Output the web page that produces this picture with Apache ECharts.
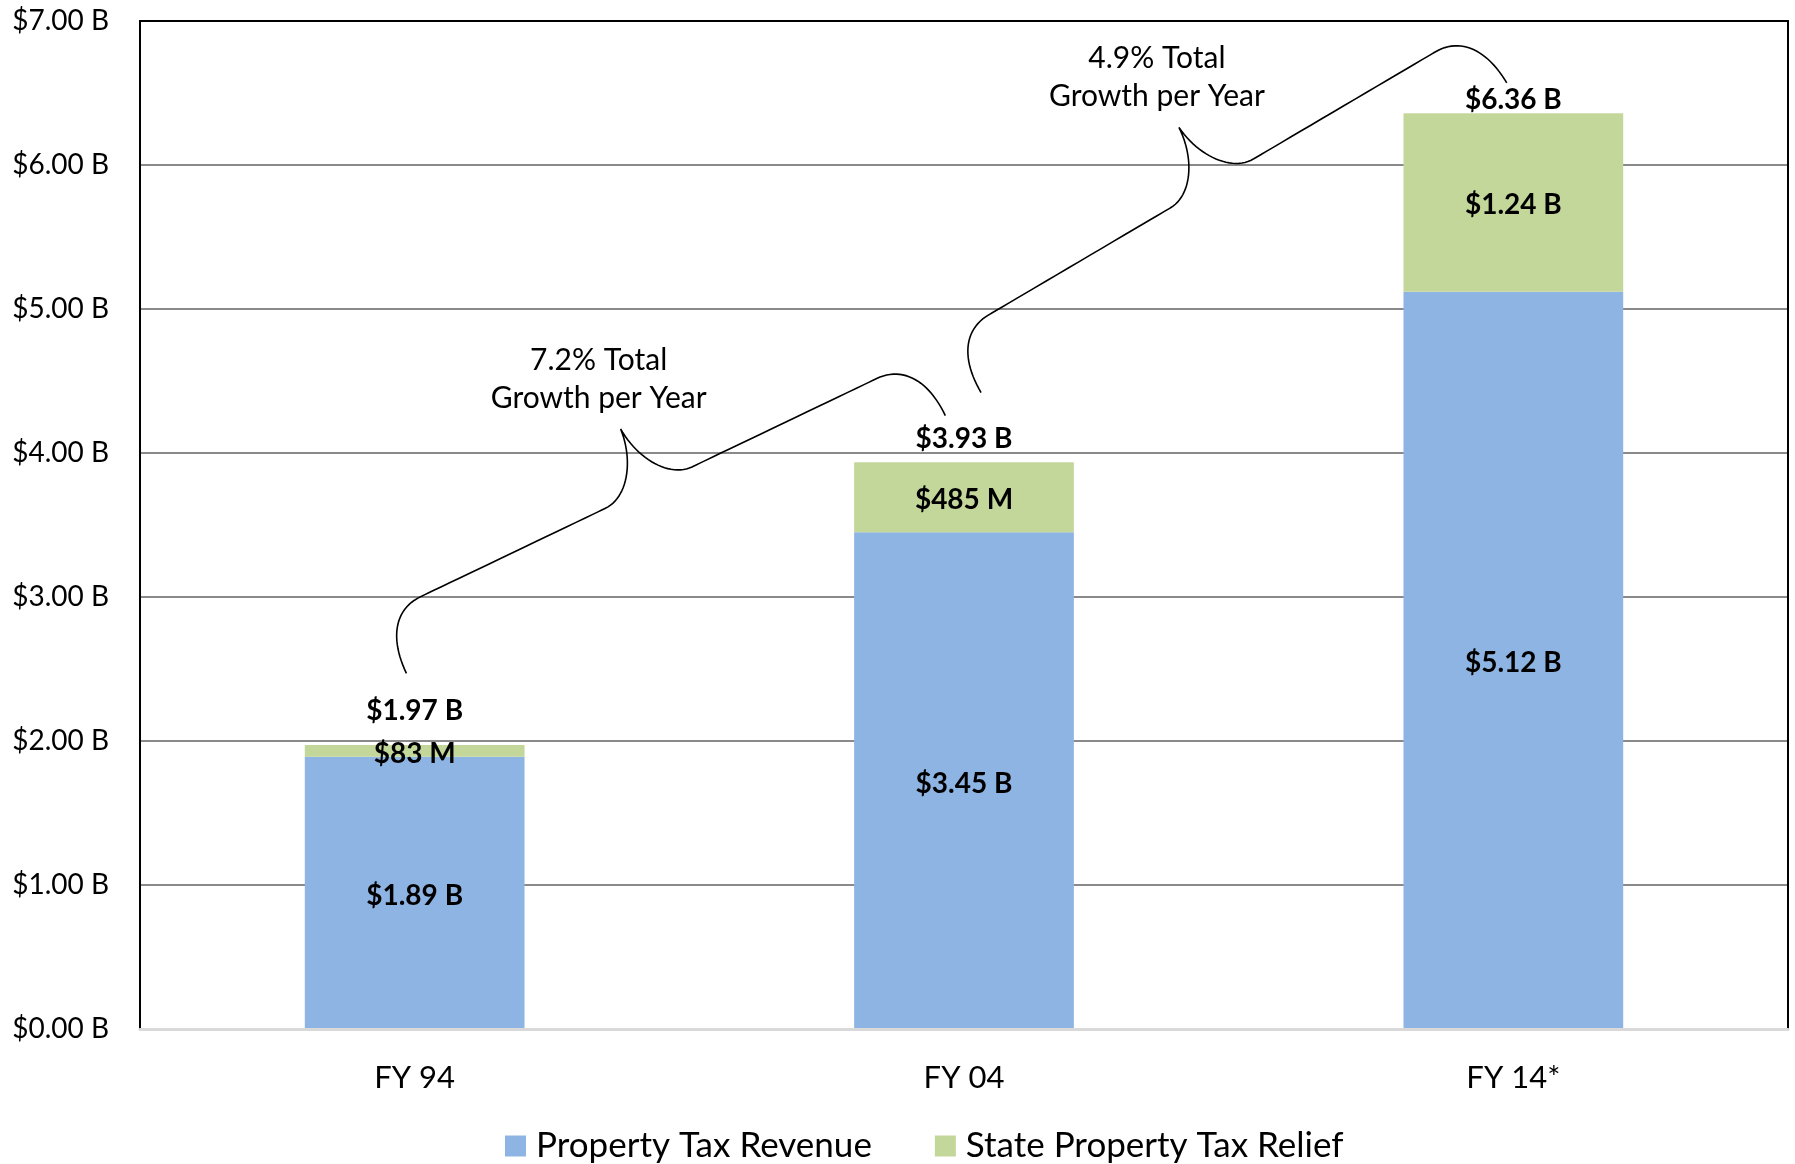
<!DOCTYPE html>
<html><head><meta charset="utf-8">
<script src="https://cdn.jsdelivr.net/npm/echarts@6/dist/echarts.min.js"></script>
<style>html,body{margin:0;padding:0;background:#fff}#c{width:1795px;height:1164px}</style>
</head><body><div id="c"></div>
<script>
// ---- data ----
const categories = ['FY 94', 'FY 04', 'FY 14*'];
const propertyTaxRevenue = [1.89, 3.45, 5.12];      // $B
const stateTaxRelief = [0.083, 0.485, 1.24];        // $B
const totals = [1.97, 3.93, 6.36];                  // $B
const revenueLabels = ['$1.89 B', '$3.45 B', '$5.12 B'];
const reliefLabels = ['$83 M', '$485 M', '$1.24 B'];
const totalLabels = ['$1.97 B', '$3.93 B', '$6.36 B'];
const yTickValues = [0, 1, 2, 3, 4, 5, 6, 7];
const yTickLabels = ['$0.00 B', '$1.00 B', '$2.00 B', '$3.00 B', '$4.00 B', '$5.00 B', '$6.00 B', '$7.00 B'];
const growthTexts = ['7.2% Total\nGrowth per Year', '4.9% Total\nGrowth per Year'];
// brace anchors (x in category units, y in $B)
const braceStart = [[-0.015, 2.47], [1.031, 4.42]];
const braceEnd = [[0.966, 4.26], [1.988, 6.57]];

// ---- styles ----
const FONT = 'Lato';
const BLUE = '#8EB4E3';
const GREEN = '#C4D79B';
const totalLabelOffsets = [-34, -24, -13];

const chart = echarts.init(document.getElementById('c'), null, {renderer: 'canvas'});

function cubicPts(p0, p1, p2, p3, n, out) {
  for (let i = 0; i <= n; i++) {
    const t = i / n, s = 1 - t;
    out.push([
      s*s*s*p0[0] + 3*s*s*t*p1[0] + 3*s*t*t*p2[0] + t*t*t*p3[0],
      s*s*s*p0[1] + 3*s*s*t*p1[1] + 3*s*t*t*p2[1] + t*t*t*p3[1]
    ]);
  }
}

const option = {
  backgroundColor: '#fff',
  animation: false,
  grid: {left: 140, right: 7, top: 21, bottom: 135, show: true, borderColor: '#000', borderWidth: 2,
         backgroundColor: 'transparent', z: 3},
  legend: {
    left: 500, top: 1121, itemWidth: 21, itemHeight: 21, itemGap: 63, icon: 'rect',
    textStyle: {fontFamily: FONT, fontSize: 35, color: '#000', lineHeight: 40, padding: [0, 0, 0, 5]},
    data: ['Property Tax Revenue', 'State Property Tax Relief']
  },
  xAxis: [{
    type: 'category', data: categories, z: 4,
    axisLine: {show: true, lineStyle: {color: '#D9D9D9', width: 3}},
    axisTick: {show: false},
    axisLabel: {fontFamily: FONT, fontSize: 31, color: '#000', margin: 33}
  }, {
    type: 'value', min: -0.5, max: 2.5, show: false
  }],
  yAxis: {
    type: 'value', min: 0, max: 7, interval: 1,
    axisLine: {show: false}, axisTick: {show: false},
    splitLine: {lineStyle: {color: '#8A8A8A', width: 2}},
    axisLabel: {fontFamily: FONT, fontSize: 28, color: '#000', margin: 31,
      formatter: (v) => yTickLabels[yTickValues.indexOf(v)]}
  },
  series: [
    {
      name: 'Property Tax Revenue', type: 'bar', stack: 'total', barWidth: '40%',
      itemStyle: {color: BLUE}, silent: true,
      label: {show: true, position: 'inside', offset: [0, 3], fontFamily: FONT, fontSize: 28, fontWeight: 'bold', color: '#000',
        formatter: (p) => revenueLabels[p.dataIndex]},
      data: propertyTaxRevenue
    },
    {
      name: 'State Property Tax Relief', type: 'bar', stack: 'total', barWidth: '40%',
      itemStyle: {color: GREEN}, silent: true,
      label: {show: true, position: 'inside', offset: [0, 3], fontFamily: FONT, fontSize: 28, fontWeight: 'bold', color: '#000',
        formatter: (p) => reliefLabels[p.dataIndex]},
      data: stateTaxRelief
    },
    {
      name: 'Total', type: 'scatter', symbolSize: 1, silent: true, z: 5,
      itemStyle: {color: 'rgba(0,0,0,0)', opacity: 1},
      label: {show: true, position: 'inside', fontFamily: FONT, fontSize: 28, fontWeight: 'bold', color: '#000', opacity: 1,
        formatter: (p) => totalLabels[p.dataIndex]},
      data: totals.map((v, i) => ({value: v, label: {offset: [0, totalLabelOffsets[i]]}}))
    },
    {
      name: 'Growth', type: 'custom', xAxisIndex: 1, yAxisIndex: 0, silent: true, z: 6,
      data: braceStart.map((s, i) => [s[0], s[1], braceEnd[i][0], braceEnd[i][1]]),
      renderItem: (params, api) => {
        const a = api.coord([api.value(0), api.value(1)]);
        const b = api.coord([api.value(2), api.value(3)]);
        const dx = b[0] - a[0], dy = b[1] - a[1];
        const L = Math.hypot(dx, dy);
        const ex = dx / L, ey = dy / L;
        const nx = ey, ny = -ex;
        const P = (q) => [a[0] + q[0]*ex + q[1]*nx, a[1] + q[0]*ey + q[1]*ny];
        const h = 63, T = 128, r = 46, rt = 48, m = L / 2;
        const segs = [
          [[0, 0], [0, h*0.6], [r*0.35, h], [r, h]],
          [[r, h], [r, h], [m - rt, h], [m - rt, h]],
          [[m - rt, h], [m - rt*0.5, h], [m - rt*0.05, h + (T - h)*0.45], [m, T]],
          [[m, T], [m + rt*0.05, h + (T - h)*0.45], [m + rt*0.5, h], [m + rt, h]],
          [[m + rt, h], [m + rt, h], [L - r, h], [L - r, h]],
          [[L - r, h], [L - r*0.35, h], [L, h*0.6], [L, 0]]
        ];
        const pts = [];
        segs.forEach(sg => cubicPts(P(sg[0]), P(sg[1]), P(sg[2]), P(sg[3]), 24, pts));
        const tip = P([m, T]);
        return {
          type: 'group',
          children: [
            {type: 'polyline', shape: {points: pts}, style: {stroke: '#000', lineWidth: 1.6, fill: null}},
            {type: 'text', x: tip[0] - 22, y: tip[1] - 50,
             style: {text: growthTexts[params.dataIndex], fontFamily: FONT, fontSize: 30, fill: '#000',
                     align: 'center', verticalAlign: 'middle', lineHeight: 38}}
          ]
        };
      }
    }
  ]
};
chart.setOption(option);
</script>
</body></html>
